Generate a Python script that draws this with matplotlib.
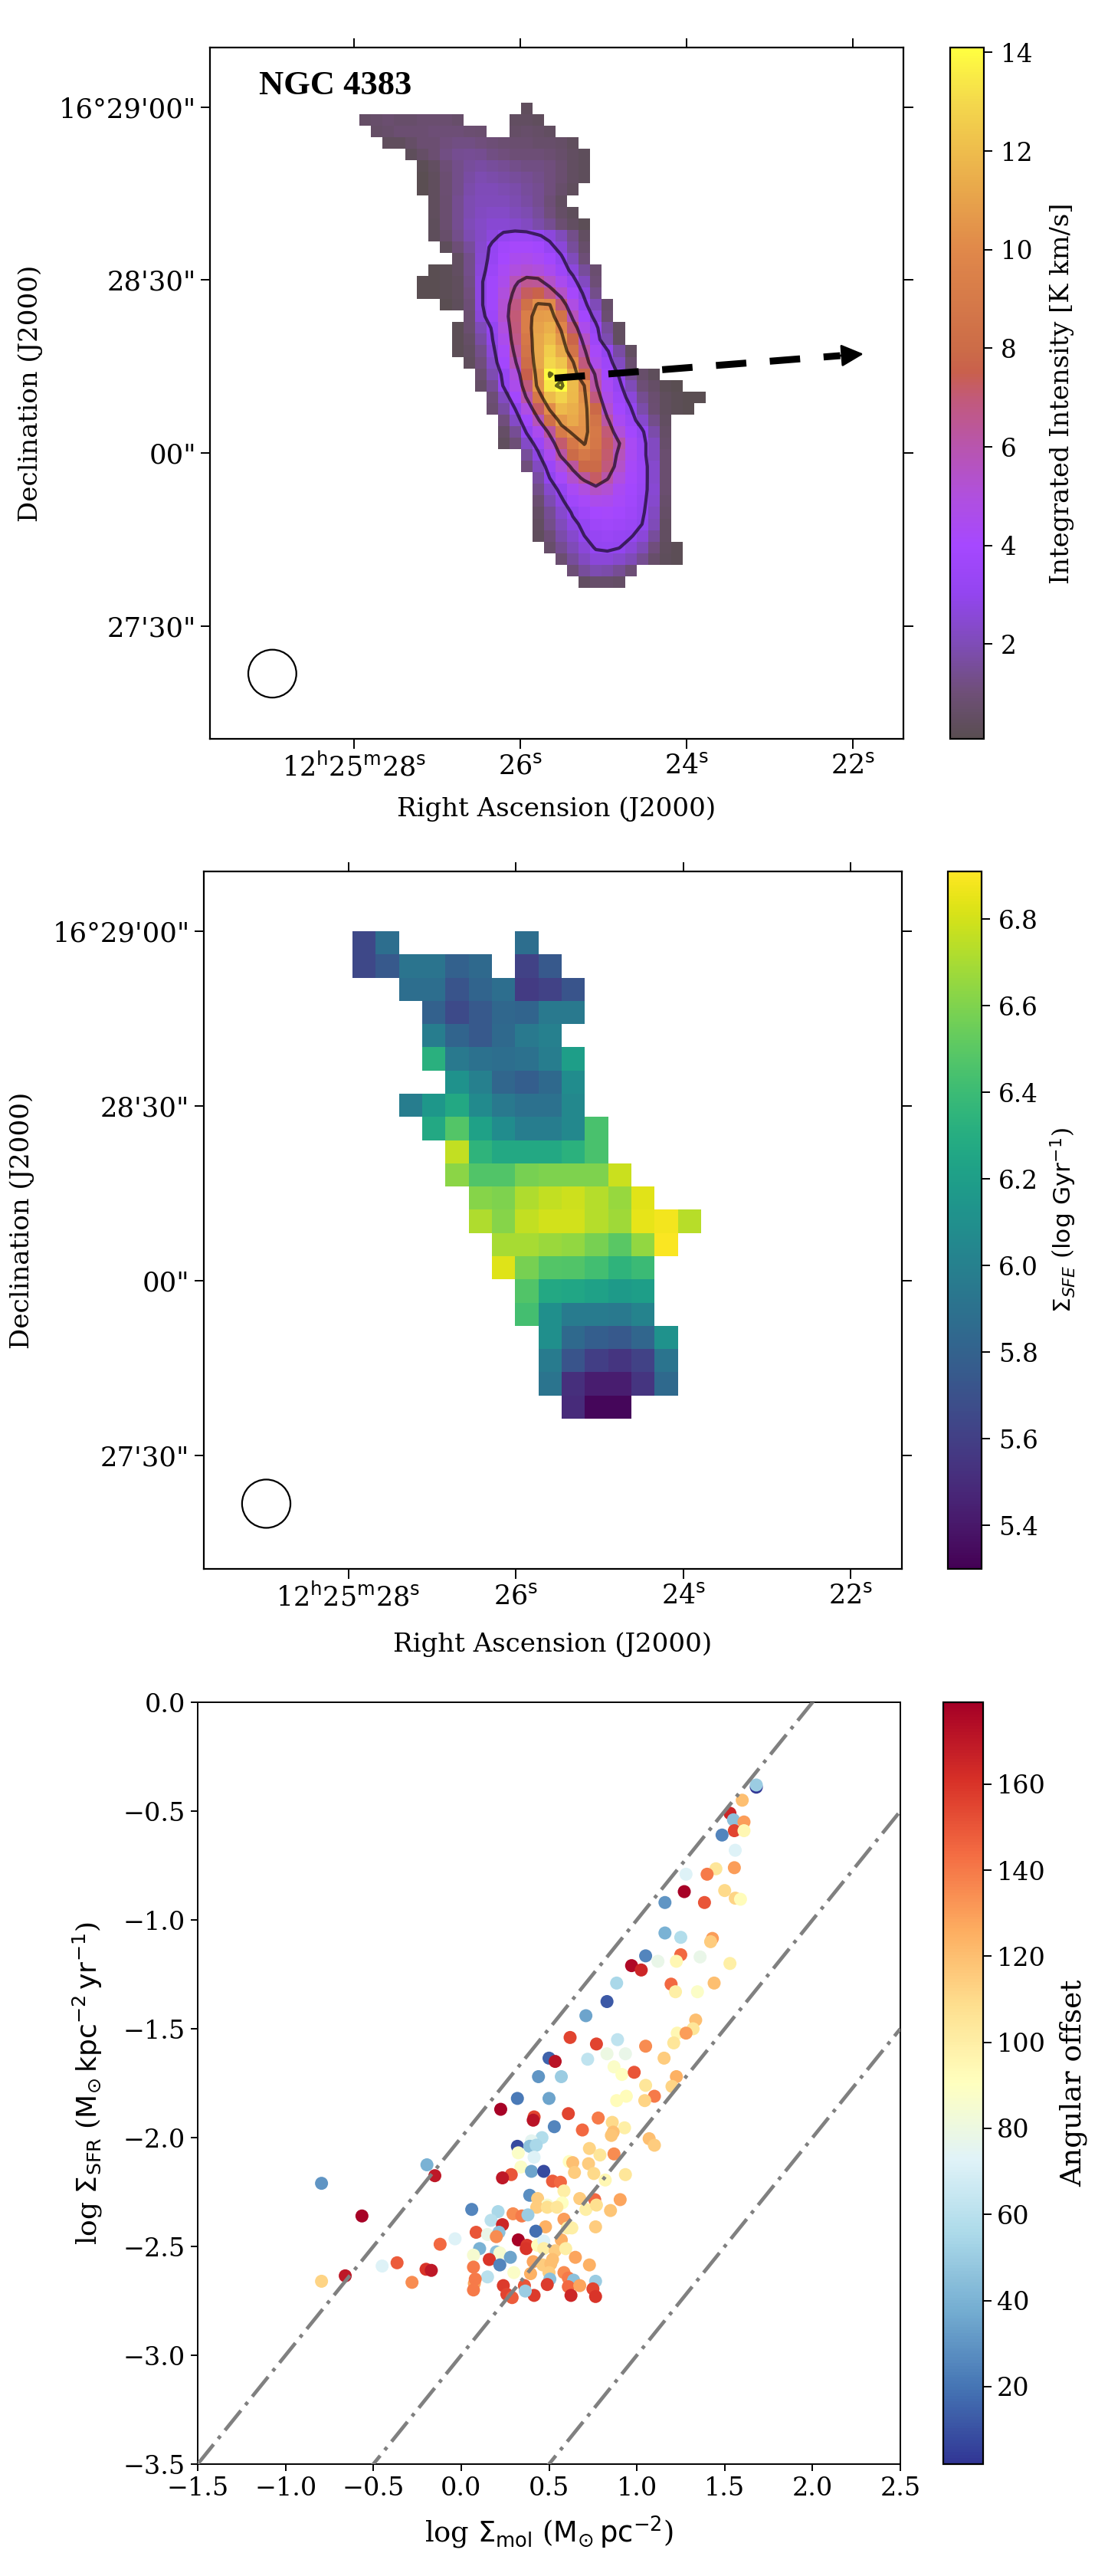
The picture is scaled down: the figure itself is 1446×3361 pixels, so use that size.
import numpy as np
import matplotlib
matplotlib.use('Agg')
import matplotlib.pyplot as plt
from matplotlib.colors import LinearSegmentedColormap
from matplotlib.patches import Ellipse

W, H = 1446, 3361
n = np.nan

# ---- Panel 1: integrated intensity, (first column, values) per row
intensity_rows = [
 (14,[.4]),
 (0,[.6,.7,.8,.7,.7,.8,.8,.8,.7,n,n,n,n,.5,.5,.4]),
 (1,[.6,.7,.9,.9,.9,1.,1.,1.,.9,.8,n,n,.6,.7,.6,.5]),
 (2,[.4,.4,.6,.9,.9,1.1,1.2,1.2,1.1,1.,.9,.8,.8,.7,.7,.6,.4]),
 (4,[.3,.6,.9,1.2,1.4,1.5,1.4,1.2,1.1,1.,1.,1.,.9,.7,.5,.3]),
 (5,[.2,.5,1.,1.3,1.6,1.7,1.6,1.5,1.3,1.2,1.2,1.1,.8,.5,.3]),
 (5,[.1,.4,.9,1.3,1.7,1.9,1.8,1.7,1.6,1.5,1.3,1.1,.8,.5,.3]),
 (5,[.1,.4,.9,1.3,1.8,2.,2.,1.9,1.8,1.6,1.4,1.1,.7,.4]),
 (6,[.4,.8,1.4,1.9,2.1,2.1,2.1,1.9,1.7,1.4,1.,.5]),
 (6,[.4,.8,1.4,1.9,2.2,2.3,2.3,2.1,1.9,1.6,1.1,.6,.3]),
 (6,[.3,.8,1.4,2.,2.3,2.5,2.5,2.4,2.2,1.8,1.4,.9,.5,.2]),
 (6,[.3,.7,1.3,1.9,2.3,2.7,3.2,3.4,3.4,3.1,2.7,2.1,1.3,.5]),
 (7,[.3,1.,1.6,2.4,3.2,3.8,4.1,4.1,3.9,3.3,2.6,1.6,.7]),
 (8,[.5,1.3,2.5,3.3,4.,4.5,4.6,4.3,3.9,3.2,2.1,1.]),
 (6,[.1,.2,.5,1.3,2.6,3.5,4.3,4.9,5.2,5.,4.5,3.6,2.7,1.6,.8]),
 (5,[.1,.1,.2,.4,1.2,2.8,3.8,4.6,5.8,6.5,6.4,5.4,4.5,3.4,2.2,1.]),
 (5,[.1,.1,.2,.4,1.1,2.8,3.8,5.,6.3,7.3,7.6,6.8,5.5,4.1,2.8,1.3]),
 (7,[.1,.3,1.,2.8,3.8,5.2,6.8,8.4,10.3,10.1,6.9,4.8,3.3,2.,.7]),
 (9,[.9,2.6,3.6,5.3,7.,9.3,10.8,10.9,8.6,5.7,3.9,2.6,.9]),
 (8,[.2,.8,2.,3.1,4.9,6.9,9.3,11.,11.5,9.8,6.9,4.6,3.3,1.6,.5]),
 (8,[.2,.6,1.7,2.9,4.6,6.7,8.9,11.2,12.,10.6,7.7,5.5,3.6,1.9,.5]),
 (8,[.2,.5,1.3,2.6,4.2,6.3,8.6,11.3,12.6,11.4,8.6,6.2,4.2,3.1,1.7,.5]),
 (9,[.4,1.1,2.3,3.9,5.8,8.1,11.2,13.,12.3,10.2,6.9,4.6,3.6,2.2,.8]),
 (10,[.8,1.9,3.3,5.,7.5,10.8,13.9,13.4,11.2,7.9,5.8,3.9,2.9,1.5,.7,.3]),
 (10,[.6,1.5,3.1,4.6,6.9,10.5,13.4,14.1,12.,10.,6.2,4.3,3.3,2.,1.,.6,.2,.1]),
 (11,[1.,2.2,3.9,6.1,8.9,12.,12.8,11.9,10.4,6.9,4.7,3.6,2.6,1.4,.8,.4,.2,.1,.1]),
 (11,[.8,1.7,3.,4.8,7.2,10.2,11.9,11.5,10.6,7.9,5.3,3.9,3.1,1.8,.9,.4,.2,.1]),
 (12,[1.1,2.3,3.8,5.8,8.3,10.6,11.3,10.5,8.6,6.2,4.4,3.5,2.4,1.3,.5]),
 (12,[.6,1.5,3.1,4.5,6.3,9.1,10.3,10.4,9.,7.,5.1,3.9,3.2,1.8,.6]),
 (12,[.4,1.,2.3,3.5,5.2,7.1,8.9,10.1,8.8,7.2,6.1,4.3,3.4,2.2,.7]),
 (14,[1.6,2.8,4.5,6.2,8.,9.,8.4,7.1,5.7,4.4,3.4,2.2,.8]),
 (14,[1.1,2.2,3.5,5.,6.3,7.9,8.,6.9,5.4,4.2,3.5,2.4,.8]),
 (15,[1.7,3.,4.2,5.3,6.3,7.2,6.1,4.9,4.1,3.5,2.4,.8]),
 (15,[1.3,2.4,3.3,4.3,4.9,5.5,5.2,4.4,3.9,3.4,2.5,.8]),
 (15,[.9,1.9,2.8,3.7,4.2,4.6,4.5,4.2,3.8,3.3,2.4,.7]),
 (15,[.6,1.5,2.4,3.1,3.6,4.,4.1,3.9,3.6,3.2,2.2,.6]),
 (15,[.5,1.3,2.1,2.8,3.2,3.6,3.7,3.6,3.4,3.,2.,.5]),
 (15,[.4,1.,1.8,2.4,3.,3.3,3.4,3.3,3.1,2.6,1.6,.5]),
 (16,[.7,1.4,2.,2.6,3.1,3.2,3.05,2.6,2.,1.1,.4,.2]),
 (17,[.9,1.6,2.2,2.6,2.6,2.4,2.,1.4,.7,.3,.2]),
 (18,[1.,1.6,1.9,1.8,1.5,1.]),
 (19,[.5,.7,.7,.6]),
]
contour_levels = [3.0, 6.0, 10.0, 13.8]
intensity_ticks = [2, 4, 6, 8, 10, 12, 14]

# ---- Panel 2: star-formation efficiency, (first column, values) per row
sfe_rows = [
 (0,[5.65,5.88,n,n,n,n,n,5.88]),
 (0,[5.65,5.75,5.92,5.92,5.80,5.85,n,5.62,5.75]),
 (2,[5.88,5.88,5.72,5.82,5.88,5.58,5.62,5.72]),
 (3,[5.80,5.66,5.75,5.84,5.82,5.95,5.95]),
 (3,[5.98,5.82,5.75,5.85,5.95,6.00]),
 (3,[6.32,5.95,5.90,5.88,5.90,5.98,6.20]),
 (4,[6.12,6.00,5.83,5.78,5.85,6.08]),
 (2,[5.98,6.15,6.27,6.07,5.95,5.90,5.90,6.05]),
 (3,[6.27,6.48,6.22,6.08,5.98,5.98,6.05,6.45]),
 (4,[6.76,6.35,6.27,6.27,6.27,6.33,6.45]),
 (4,[6.63,6.47,6.47,6.58,6.60,6.60,6.60,6.78]),
 (5,[6.62,6.60,6.72,6.76,6.79,6.73,6.66,6.84]),
 (5,[6.72,6.62,6.76,6.80,6.80,6.73,6.68,6.85,6.88,6.74]),
 (6,[6.70,6.70,6.67,6.65,6.58,6.50,6.65,6.90]),
 (6,[6.83,6.58,6.48,6.47,6.42,6.35,6.40]),
 (7,[6.47,6.27,6.25,6.22,6.18,6.20]),
 (7,[6.43,6.10,5.97,5.97,5.95,6.02]),
 (8,[6.10,5.85,5.78,5.75,5.83,6.12]),
 (8,[5.97,5.72,5.60,5.55,5.62,5.92]),
 (8,[5.92,5.52,5.43,5.43,5.55,5.85]),
 (9,[5.50,5.33,5.33]),
]
sfe_ticks = [5.4, 5.6, 5.8, 6.0, 6.2, 6.4, 6.6, 6.8]

# ---- Shared sky axes
ra_ticks = [28, 26, 24, 22]
ra_labels = [r'12$^{\mathrm{h}}$25$^{\mathrm{m}}$28$^{\mathrm{s}}$', r'26$^{\mathrm{s}}$', r'24$^{\mathrm{s}}$', r'22$^{\mathrm{s}}$']
dec_ticks = [60, 30, 0, -30]
dec_labels = ['16°29\'00"', '28\'30"', '00"', '27\'30"']

# ---- Panel 3: Kennicutt-Schmidt points
log_mol = [1.68,1.68,1.60,1.53,1.55,1.61,1.555,1.61,1.485,1.56,1.555,1.45,1.40,1.28,1.27,1.50,1.385,1.56,1.59,1.16,
 1.16,1.25,1.43,1.42,1.05,1.25,1.12,1.225,1.36,.97,1.025,1.53,.885,1.195,1.44,1.22,1.345,.83,.71,1.335,
 1.32,1.23,1.28,1.21,.62,.77,.89,1.05,.83,.935,.50,.535,.72,1.155,.44,.57,.87,.915,.985,1.225,
 1.05,1.20,1.10,.94,.885,1.045,.32,.50,.225,.415,.41,.61,.78,.53,.86,.93,.69,.865,.855,1.07,
 1.10,.46,.40,.32,.39,.427,.73,.325,.415,.87,.79,.615,.635,.725,-.195,-.15,.34,.40,.47,.285,
 .235,.645,.755,.935,.82,.52,.565,-.795,.585,.39,.435,.675,.905,.76,.575,.49,.43,.49,.545,.71,
 .77,.85,.06,.21,.295,.345,.38,-.565,.585,.17,.235,.48,.605,.63,.765,.085,.15,.215,.20,.425,
 -.035,-.12,.325,.375,.37,.57,.435,.47,.47,.535,.595,.105,.20,.22,.07,.16,.28,.65,.52,.41,
 .465,.51,.73,.07,.22,-.365,-.45,-.2,-.17,.15,.30,.395,.50,.585,.61,.505,.64,.765,-.66,-.795,
 -.28,.075,.08,.24,.36,.49,.61,.675,.75,.07,.26,.29,.415,.625,.765,.365]
log_sfr = [-.39,-.38,-.45,-.51,-.54,-.55,-.59,-.59,-.61,-.68,-.76,-.765,-.79,-.79,-.87,-.865,-.92,-.90,-.905,-.92,
 -1.06,-1.08,-1.085,-1.10,-1.165,-1.16,-1.19,-1.19,-1.17,-1.21,-1.23,-1.20,-1.29,-1.295,-1.29,-1.33,-1.33,-1.375,-1.44,-1.46,
 -1.50,-1.52,-1.52,-1.565,-1.54,-1.57,-1.55,-1.58,-1.615,-1.615,-1.635,-1.65,-1.64,-1.635,-1.72,-1.72,-1.675,-1.71,-1.70,-1.72,
 -1.76,-1.765,-1.81,-1.81,-1.83,-1.83,-1.82,-1.82,-1.87,-1.905,-1.92,-1.89,-1.91,-1.95,-1.93,-1.955,-1.965,-1.975,-1.99,-2.005,
 -2.035,-2.00,-2.015,-2.04,-2.04,-2.035,-2.05,-2.07,-2.09,-2.075,-2.08,-2.11,-2.115,-2.12,-2.125,-2.175,-2.135,-2.155,-2.155,-2.17,
 -2.185,-2.16,-2.165,-2.17,-2.195,-2.2,-2.205,-2.21,-2.245,-2.265,-2.28,-2.28,-2.285,-2.285,-2.30,-2.31,-2.32,-2.32,-2.32,-2.33,
 -2.31,-2.335,-2.33,-2.34,-2.35,-2.36,-2.355,-2.36,-2.375,-2.38,-2.40,-2.41,-2.415,-2.415,-2.41,-2.435,-2.445,-2.435,-2.455,-2.43,
 -2.465,-2.49,-2.47,-2.495,-2.51,-2.47,-2.495,-2.475,-2.51,-2.52,-2.51,-2.51,-2.525,-2.53,-2.54,-2.56,-2.55,-2.55,-2.56,-2.57,
 -2.585,-2.58,-2.585,-2.595,-2.585,-2.575,-2.59,-2.605,-2.61,-2.64,-2.62,-2.625,-2.62,-2.62,-2.645,-2.65,-2.655,-2.66,-2.635,-2.66,
 -2.665,-2.67,-2.65,-2.68,-2.68,-2.675,-2.685,-2.68,-2.695,-2.70,-2.72,-2.735,-2.725,-2.725,-2.73,-2.705]
angle = [3,50,120,165,45,130,155,95,25,72,130,105,140,72,178,110,150,112,92,30,
 40,58,130,115,25,145,78,95,78,175,165,100,55,145,120,100,88,12,35,120,
 105,95,130,105,155,155,62,135,80,78,15,172,62,115,30,50,88,90,150,125,
 105,112,140,92,92,112,22,35,178,155,172,155,140,25,110,100,145,120,118,120,
 115,58,75,8,45,55,112,88,72,135,105,90,120,115,40,170,88,35,8,150,
 170,115,110,105,95,148,145,30,100,28,115,115,128,145,90,85,115,108,105,100,
 108,118,25,55,135,140,50,178,130,60,165,125,100,100,115,150,78,45,135,18,
 72,145,178,158,160,125,92,72,100,115,100,40,45,85,85,160,35,128,120,128,
 115,120,125,140,25,148,72,160,170,60,88,125,115,135,140,45,45,50,170,112,
 135,128,140,158,150,158,145,128,155,140,155,148,158,165,160,50]
ratio_offsets = [-2, -3, -4]
angle_ticks = [20, 40, 60, 80, 100, 120, 140, 160]

SERIF = ['DejaVu Serif', 'Liberation Serif']
plt.rcParams['font.family'] = SERIF
plt.rcParams['mathtext.fontset'] = 'dejavusans'


def rows_to_grid(rows, ncols):
    g = np.full((len(rows), ncols), np.nan)
    for i, (c0, vals) in enumerate(rows):
        g[i, c0:c0 + len(vals)] = vals
    return g


def box(fig, l, r, t, b):
    return fig.add_axes([l / W, 1 - b / H, (r - l) / W, (b - t) / H])


fig = plt.figure(figsize=(W / 100, H / 100), dpi=100)
fig.patch.set_facecolor('white')

cmap1 = LinearSegmentedColormap.from_list('ico', [
    (0.0, '#5a4e52'), (0.066, '#6f4f78'), (0.137, '#7f4cb8'), (0.209, '#9345f0'),
    (0.28, '#a648ff'), (0.351, '#b050dd'), (0.422, '#b855ae'), (0.494, '#c25a78'),
    (0.53, '#c9604c'), (0.565, '#cc6c48'), (0.708, '#e0884a'), (0.851, '#eebc4c'),
    (0.922, '#f4d84c'), (1.0, '#ffff40')])


def sky_axes(ax, xlab_y, ylab_x):
    ax.set_xlim(29.73, 21.39)
    ax.set_ylim(-49.5, 70.3)
    ax.set_xticks(ra_ticks)
    ax.set_xticklabels(ra_labels, fontsize=25)
    ax.set_yticks(dec_ticks)
    ax.set_yticklabels(dec_labels, fontsize=25.5)
    ax.tick_params(top=True, right=True, direction='out', length=9, width=1.4, pad=4)
    ax.set_xlabel('Right Ascension (J2000)', fontsize=24.5)
    ax.set_ylabel('Declination (J2000)', fontsize=24.5)
    ax.xaxis.set_label_coords(0.5, xlab_y)
    ax.yaxis.set_label_coords(ylab_x, 0.5)
    for s in ax.spines.values():
        s.set_linewidth(1.6)


def style_cbar(cb, ticks, label, tick_fs, label_fs, lab_x, tick_pad):
    cb.set_ticks(ticks)
    cb.ax.tick_params(labelsize=tick_fs, length=8, width=1.4, pad=tick_pad)
    cb.set_label(label, fontsize=label_fs)
    cb.ax.yaxis.set_label_coords(lab_x, 0.5)
    cb.outline.set_linewidth(1.6)


# Panel 1
ax1 = box(fig, 274, 1179, 62, 964)
Z1 = rows_to_grid(intensity_rows, 30)
x0, x1, y0, y1 = 27.935, 23.77, 60.7, -23.3
im1 = ax1.imshow(Z1, cmap=cmap1, vmin=0.08, vmax=14.1, extent=(x0, x1, y1, y0),
                 origin='upper', aspect='auto', interpolation='nearest')
xc = x0 + (np.arange(30) + .5) * (x1 - x0) / 30
yc = y0 + (np.arange(len(intensity_rows)) + .5) * (y1 - y0) / len(intensity_rows)
ax1.contour(xc, yc, np.ma.masked_invalid(Z1), levels=contour_levels, colors='k', linewidths=3.0, alpha=.6)
ax1.plot([25.585, 22.15], [13.0, 16.9], color='k', lw=6.5, ls=(0, (4.4, 3.4)), dash_capstyle='butt')
ax1.annotate('', xy=(21.87, 17.2), xytext=(22.2, 16.85),
             arrowprops=dict(arrowstyle='-|>,head_length=1.0,head_width=.5', color='k', lw=2, shrinkA=0, shrinkB=0, mutation_scale=18))
ax1.add_patch(Ellipse((28.98, -38.2), 0.578, 8.3, fc='none', ec='k', lw=1.6))
ax1.text(29.14, 61.0, 'NGC 4383', family='Liberation Serif', weight='bold', fontsize=32, va='bottom', ha='left', color='k')
sky_axes(ax1, -.084, -.241)
cax1 = box(fig, 1240, 1284, 62, 964)
cb1 = fig.colorbar(im1, cax=cax1)
style_cbar(cb1, intensity_ticks, 'Integrated Intensity [K km/s]', 23.5, 24.3, 2.95, 8)

# Panel 2
ax2 = box(fig, 265.5, 1177, 1137, 2047)
Z2 = rows_to_grid(sfe_rows, 15)
im2 = ax2.imshow(Z2, cmap='viridis', vmin=5.3, vmax=6.91, extent=(27.95, 23.79, -23.7, 60.0),
                 origin='upper', aspect='auto', interpolation='nearest')
ax2.add_patch(Ellipse((28.98, -38.3), 0.578, 8.3, fc='none', ec='k', lw=1.6))
sky_axes(ax2, -.091, -.242)
cax2 = box(fig, 1237, 1281, 1137, 2047)
cb2 = fig.colorbar(im2, cax=cax2)
style_cbar(cb2, sfe_ticks, r'$\Sigma_{SFE}$ ($\log\,\mathrm{Gyr}^{-1}$)', 23.5, 22.5, 2.98, 8)

# Panel 3
ax3 = box(fig, 258, 1175, 2221, 3215)
sc = ax3.scatter(log_mol, log_sfr, c=angle, cmap='RdYlBu_r', vmin=2, vmax=179, s=150, linewidths=0, zorder=2)
line_x = np.array([-1.5, 2.5])
for off in ratio_offsets:
    ax3.plot(line_x, line_x + off, color='gray', lw=3.4, ls=(0, (7.0, 2.0, 1, 2.0)), zorder=3)
ax3.set_xlim(-1.5, 2.5)
ax3.set_ylim(-3.5, 0)
ax3.set_xticks(np.arange(-1.5, 2.51, .5))
ax3.set_yticks(np.arange(-3.5, .01, .5))
ax3.tick_params(labelsize=24, length=6.5, width=1.4, pad=5)
ax3.set_xlabel(r'log $\Sigma_{\mathrm{mol}}$ ($\mathrm{M}_{\odot}\,\mathrm{pc}^{-2}$)', fontsize=26.5)
ax3.set_ylabel(r'log $\Sigma_{\mathrm{SFR}}$ ($\mathrm{M}_{\odot}\,\mathrm{kpc}^{-2}\,\mathrm{yr}^{-1}$)', fontsize=26)
ax3.xaxis.set_label_coords(0.5, -.066)
ax3.yaxis.set_label_coords(-.133, 0.5)
for s in ax3.spines.values():
    s.set_linewidth(1.4)
cax3 = box(fig, 1231, 1283, 2221, 3215)
cb3 = fig.colorbar(sc, cax=cax3)
style_cbar(cb3, angle_ticks, 'Angular offset', 24, 27, 2.92, 5)

fig.savefig('out.png', dpi=100, facecolor='white')
